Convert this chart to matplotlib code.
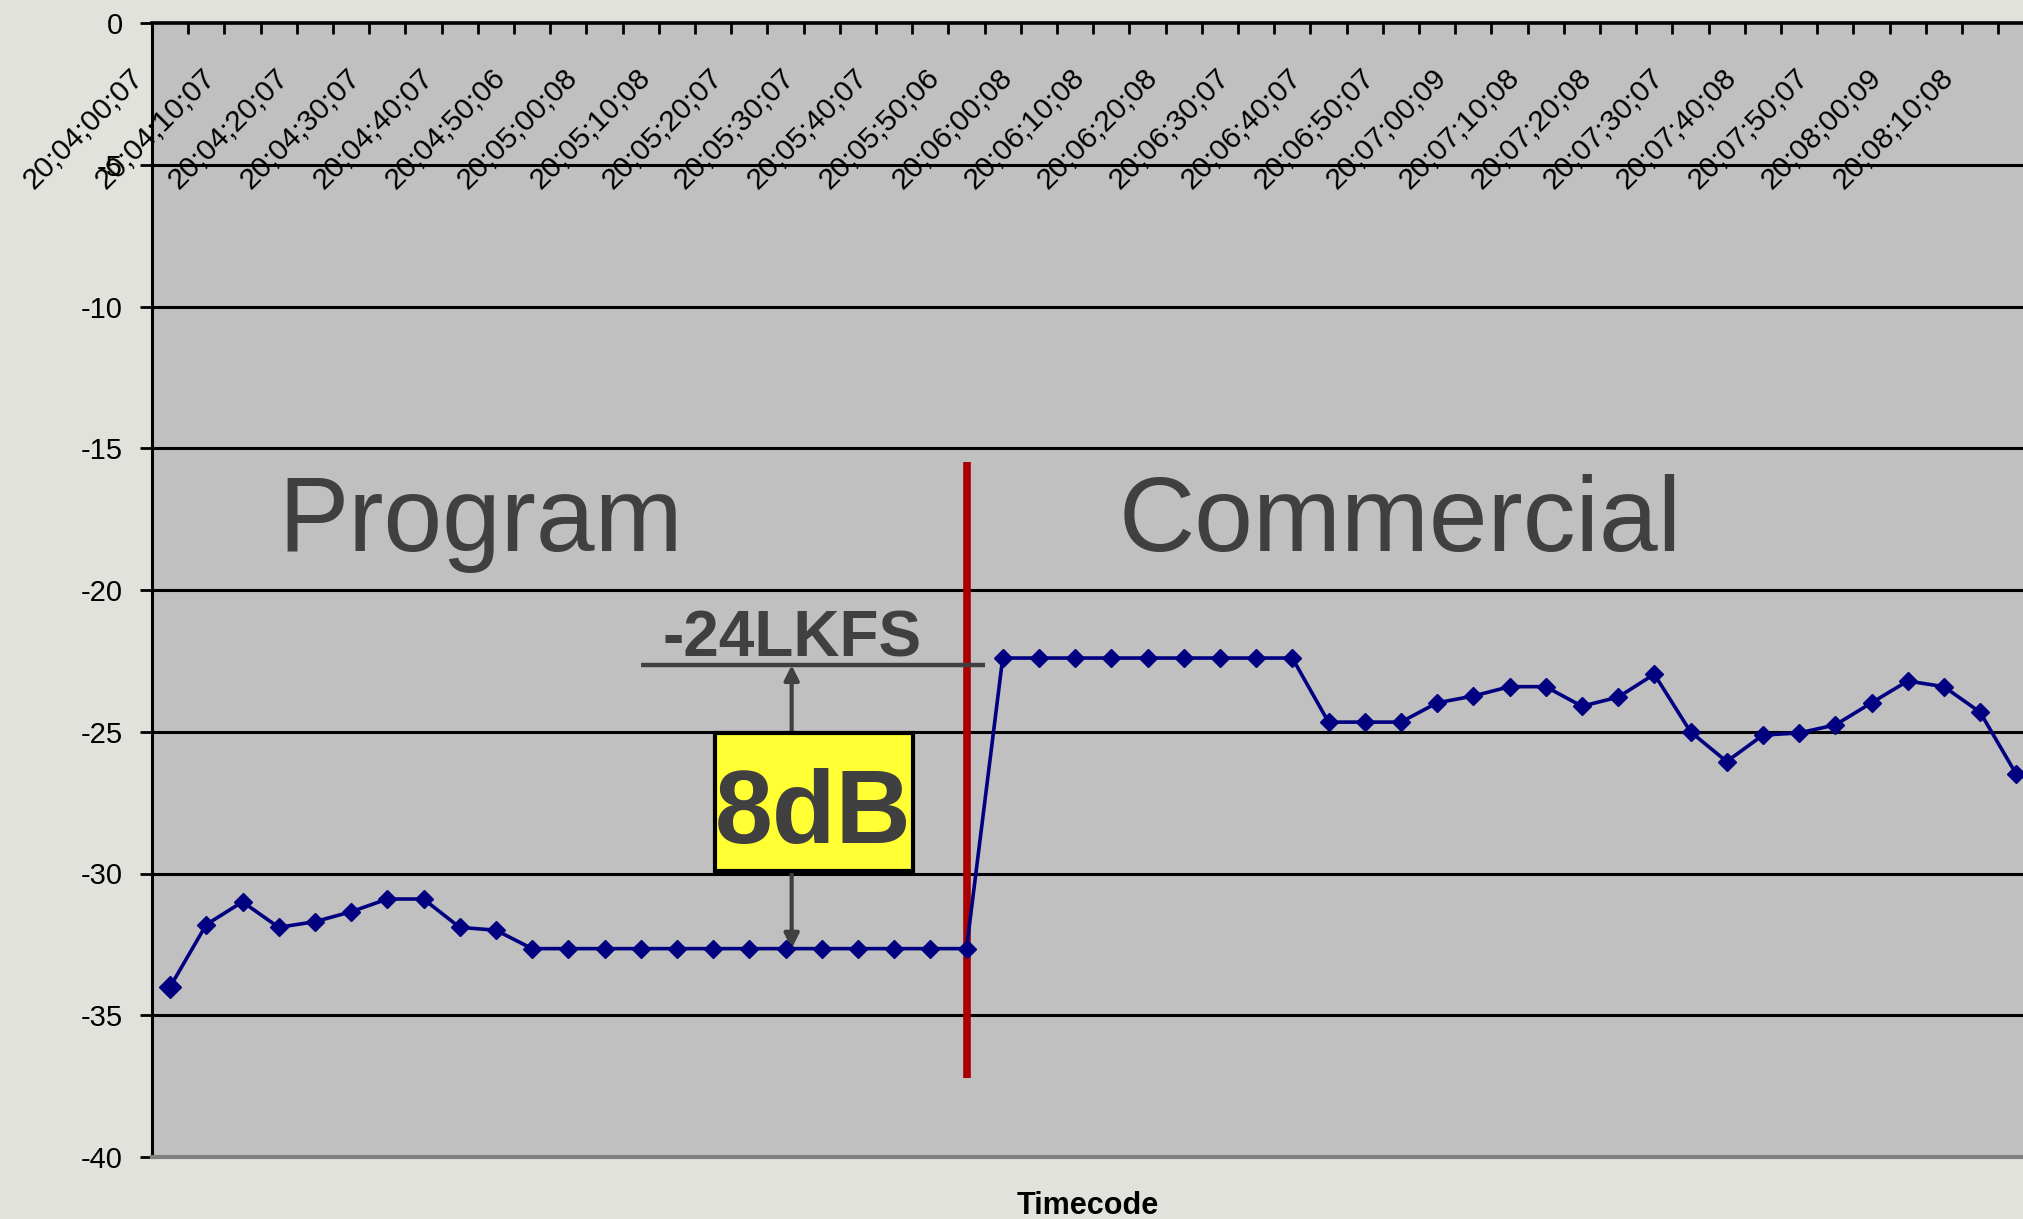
import matplotlib
matplotlib.use('Agg')
import matplotlib.pyplot as plt
from matplotlib.patches import Rectangle

plt.rcParams['font.family'] = ['Liberation Sans', 'DejaVu Sans']

# one sample every 5 s, timecode printed on every second sample
timecodes = ['20;04;00;07', '20;04;10;07', '20;04;20;07', '20;04;30;07', '20;04;40;07',
             '20;04;50;06', '20;05;00;08', '20;05;10;08', '20;05;20;07', '20;05;30;07',
             '20;05;40;07', '20;05;50;06', '20;06;00;08', '20;06;10;08', '20;06;20;08',
             '20;06;30;07', '20;06;40;07', '20;06;50;07', '20;07;00;09', '20;07;10;08',
             '20;07;20;08', '20;07;30;07', '20;07;40;08', '20;07;50;07', '20;08;00;09',
             '20;08;10;08']

program = [-34.0, -31.8, -31.0, -31.9, -31.7, -31.35, -30.9, -30.9, -31.9, -32.0,
           -32.65, -32.65, -32.65, -32.65, -32.65, -32.65, -32.65, -32.65, -32.65,
           -32.65, -32.65, -32.65, -32.65]
commercial = [-22.4, -22.4, -22.4, -22.4, -22.4, -22.4, -22.4, -22.4, -22.4,
              -24.66, -24.66, -24.66, -23.98, -23.74, -23.41, -23.41, -24.1, -23.78,
              -22.97, -25.0, -26.05, -25.12, -25.04, -24.76, -23.98, -23.21, -23.41,
              -24.31, -26.5]
loudness = program + commercial

# annotation levels (as placed on the slide)
target_level = -22.65
box_top, box_bottom = -25.04, -29.91
break_at = len(program) - 1

fig = plt.figure(figsize=(20.23, 12.19), dpi=100)
fig.patch.set_facecolor('#e2e2dc')
ax = fig.add_axes([152 / 2023, 1 - 1157 / 1219, 36.2 * 53 / 2023, 1134 / 1219])
ax.set_facecolor('#c0c0c0')
ax.set_xlim(-0.5, 52.5)
ax.set_ylim(-40, 0)

for lvl in range(-35, 0, 5):
    ax.axhline(lvl, color='black', lw=2.2, zorder=1)

ax.spines['right'].set_visible(False)
ax.spines['top'].set_linewidth(2.6)
ax.spines['left'].set_linewidth(2.2)
ax.spines['bottom'].set_color('#808080')
ax.spines['bottom'].set_linewidth(3)

ax.set_yticks(range(-40, 1, 5))
ax.set_yticklabels([str(v) for v in range(-40, 1, 5)])
ax.tick_params(axis='y', direction='out', length=9, width=2, labelsize=21, pad=12)

ax.xaxis.set_ticks_position('top')
ax.set_xticks([i - 0.5 for i in range(len(loudness) + 2)])
ax.tick_params(axis='x', direction='in', length=8, width=2,
               labeltop=False, labelbottom=False)

for k, tc in enumerate(timecodes):
    ax.text(2 * k - 1.13, -1.42, tc, rotation=45, rotation_mode='anchor',
            ha='right', va='top', fontsize=21.5, color='black', zorder=6)

x = list(range(len(loudness)))
ax.plot(x, loudness, color='#000080', lw=2.6, marker='D', markersize=9,
        zorder=5, clip_on=False)
# first reading is drawn with a larger marker
ax.plot(x[0], loudness[0], color='#000080', marker='D', markersize=11.5, zorder=5)

# program / commercial boundary
ax.vlines(break_at, -37.2, -15.5, color='#aa0000', lw=5.5, zorder=3)

ax.text(3.0, -18.62, 'Program', fontsize=76, color='#404040', va='baseline')
ax.text(26.2, -18.62, 'Commercial', fontsize=76, color='#404040', va='baseline')

# target level bar and 8 dB gap
ax.hlines(target_level, 13.0, 22.5, color='#404040', lw=3.2, zorder=4)
ax.text(17.17, -22.35, '-24LKFS', ha='center', va='baseline', fontsize=46,
        fontweight='bold', color='#404040', zorder=4)

arrow = dict(arrowstyle='-|>', color='#404040', lw=3, mutation_scale=22,
             shrinkA=0, shrinkB=0)
ax.annotate('', xy=(17.17, target_level), xytext=(17.17, box_top),
            arrowprops=arrow, zorder=4)
ax.annotate('', xy=(17.17, program[-1]), xytext=(17.17, box_bottom),
            arrowprops=arrow, zorder=4)

ax.add_patch(Rectangle((15.04, box_bottom), 5.49, box_top - box_bottom,
                       facecolor='#ffff33', edgecolor='black', lw=3, zorder=4))
ax.text(17.75, -28.93, '8dB', ha='center', va='baseline', fontsize=75,
        fontweight='bold', color='#404040', zorder=5)

fig.text(1088 / 2023, 1 - 1206 / 1219, 'Timecode', ha='center', va='center',
         fontsize=22, fontweight='bold')

fig.savefig('out.png', dpi=100, facecolor=fig.get_facecolor())
